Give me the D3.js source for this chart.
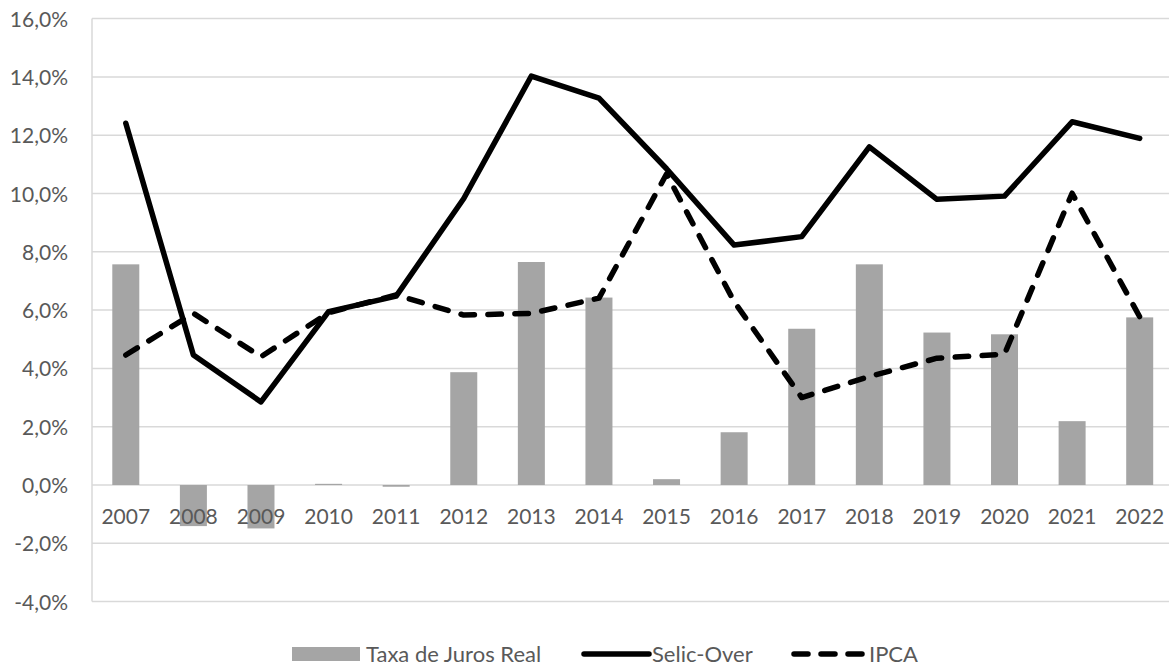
<!DOCTYPE html>
<html>
<head>
<meta charset="utf-8">
<script src="https://cdn.jsdelivr.net/npm/d3@7"></script>
<style>
  html, body { margin: 0; padding: 0; background: #fff; }
  svg { display: block; }
  text { font-family: Lato, "Open Sans", sans-serif; fill: #595959; }
</style>
</head>
<body>
<svg id="chart" width="1169" height="666"></svg>
<script>
// Anos
const years = ["2007","2008","2009","2010","2011","2012","2013","2014","2015","2016","2017","2018","2019","2020","2021","2022"];
// Taxa de juros real (%)
const realRate = [7.57, -1.41, -1.49, 0.04, -0.06, 3.87, 7.65, 6.43, 0.20, 1.81, 5.36, 7.57, 5.23, 5.17, 2.19, 5.75];
// Selic-Over (%)
const selic = [12.41, 4.46, 2.85, 5.95, 6.48, 9.83, 14.03, 13.27, 10.85, 8.23, 8.52, 11.60, 9.80, 9.91, 12.46, 11.89];
// IPCA (%)
const ipca = [4.46, 5.89, 4.40, 5.91, 6.52, 5.83, 5.89, 6.41, 10.67, 6.29, 3.00, 3.72, 4.35, 4.49, 10.01, 5.77];
// Marcas do eixo Y
const yTicks = [-4, -2, 0, 2, 4, 6, 8, 10, 12, 14, 16];
const legendLabels = ["Taxa de Juros Real", "Selic-Over", "IPCA"];

const svg = d3.select("#chart");
const plotLeft = 92, plotRight = 1173.5, plotTop = 18.6, plotBottom = 601.6;

const xc = d3.scaleBand().domain(years).range([plotLeft, plotRight]);
const y = d3.scaleLinear().domain([-4, 16]).range([plotBottom, plotTop]);
// Formato brasileiro: vírgula decimal e hífen como sinal negativo
const fmt = v => v.toFixed(1).replace(".", ",") + "%";

// Grade horizontal
svg.append("g").selectAll("line").data(yTicks).join("line")
  .attr("x1", plotLeft).attr("x2", 1169)
  .attr("y1", d => y(d)).attr("y2", d => y(d))
  .attr("stroke", "#d9d9d9").attr("stroke-width", 1.5);

// Eixo vertical
svg.append("line")
  .attr("x1", plotLeft).attr("x2", plotLeft).attr("y1", plotTop).attr("y2", plotBottom)
  .attr("stroke", "#d9d9d9").attr("stroke-width", 1.5);

// Rótulos do eixo Y
const yAxis = d3.axisLeft(y).tickValues(yTicks).tickFormat(fmt).tickSize(0).tickPadding(24);
const gy = svg.append("g").attr("transform", `translate(${plotLeft},0)`).call(yAxis);
gy.select(".domain").remove();
gy.selectAll("text").style("font-size", "21px").attr("fill", "#595959")
  .style("font-family", "Lato, 'Open Sans', sans-serif").attr("dy", "0.36em");

// Barras
const bw = 27;
svg.append("g").selectAll("rect").data(realRate).join("rect")
  .attr("x", (d, i) => xc(years[i]) + xc.bandwidth() / 2 - bw / 2)
  .attr("width", bw)
  .attr("y", d => y(Math.max(0, d)))
  .attr("height", d => Math.abs(y(d) - y(0)))
  .attr("fill", "#a5a5a5");

// Rótulos do eixo X
const xAxis = d3.axisBottom(xc).tickSize(0).tickPadding(0);
const gx = svg.append("g").attr("transform", `translate(0,${y(0)})`).call(xAxis);
gx.select(".domain").remove();
gx.selectAll("text").style("font-size", "21px").attr("fill", "#595959")
  .style("font-family", "Lato, 'Open Sans', sans-serif").attr("y", 39).attr("dy", 0);

// Linhas
const line = d3.line().x((d, i) => xc(years[i]) + xc.bandwidth() / 2).y(d => y(d));
svg.append("path").datum(ipca).attr("d", line)
  .attr("fill", "none").attr("stroke", "#000").attr("stroke-width", 5.5)
  .attr("stroke-linecap", "round").attr("stroke-linejoin", "round")
  .attr("stroke-dasharray", "13.5,13.5");
svg.append("path").datum(selic).attr("d", line)
  .attr("fill", "none").attr("stroke", "#000").attr("stroke-width", 5.5)
  .attr("stroke-linecap", "round").attr("stroke-linejoin", "round");

// Legenda
const ly = 654;
const lg = svg.append("g");
lg.append("rect").attr("x", 292).attr("y", ly - 7).attr("width", 68).attr("height", 14).attr("fill", "#a5a5a5");
lg.append("text").attr("x", 366).attr("y", ly).attr("dy", "0.36em").style("font-size", "22px").text(legendLabels[0]);
lg.append("line").attr("x1", 584).attr("x2", 649).attr("y1", ly).attr("y2", ly)
  .attr("stroke", "#000").attr("stroke-width", 5.5).attr("stroke-linecap", "round");
lg.append("text").attr("x", 652).attr("y", ly).attr("dy", "0.36em").style("font-size", "22px").text(legendLabels[1]);
lg.append("line").attr("x1", 794).attr("x2", 862).attr("y1", ly).attr("y2", ly)
  .attr("stroke", "#000").attr("stroke-width", 5.5).attr("stroke-linecap", "round")
  .attr("stroke-dasharray", "14,13");
lg.append("text").attr("x", 869).attr("y", ly).attr("dy", "0.36em").style("font-size", "22px").text(legendLabels[2]);
</script>
</body>
</html>
